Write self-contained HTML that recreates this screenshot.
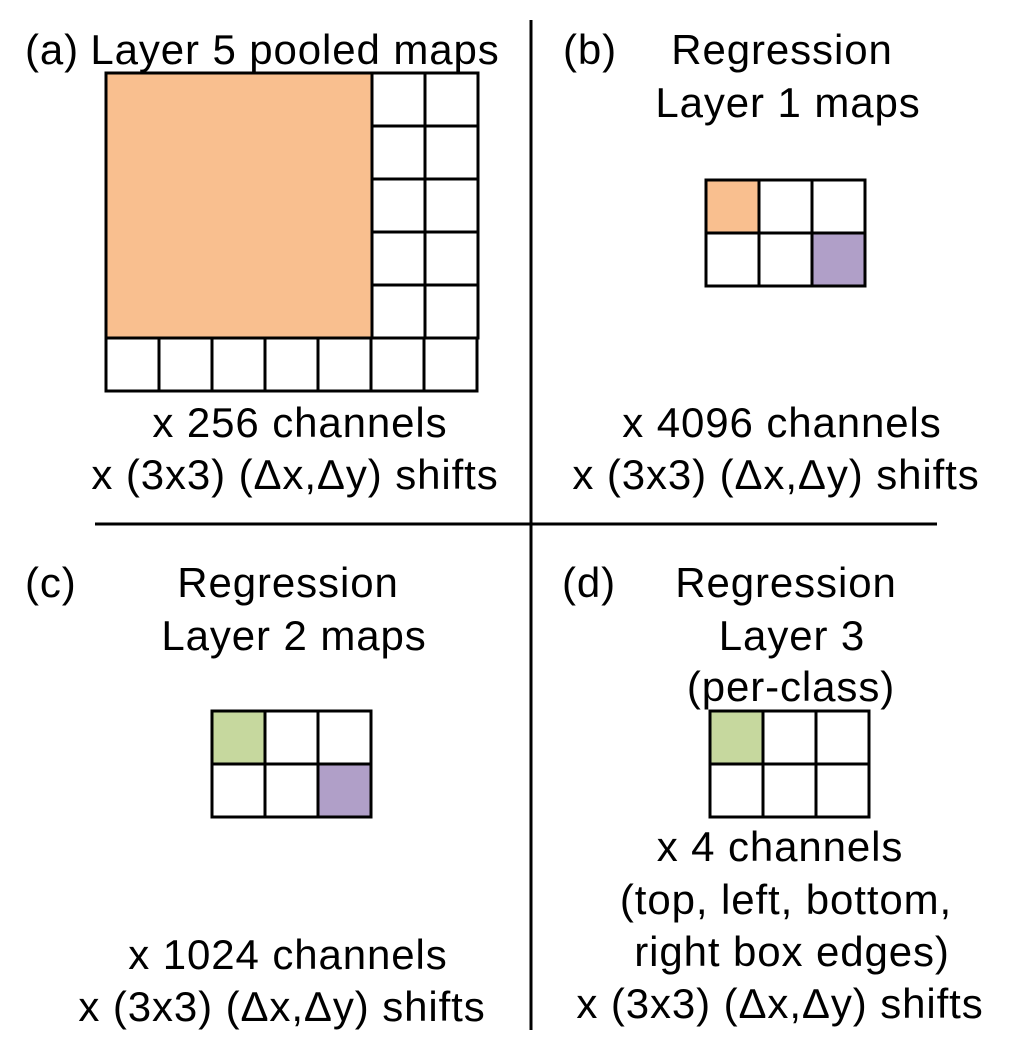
<!DOCTYPE html>
<html><head><meta charset="utf-8"><style>
html,body{margin:0;padding:0;background:#fff}
svg{display:block}
text{font-family:"Liberation Sans",sans-serif;font-size:42px;letter-spacing:0.9px;fill:#000}
.c{text-anchor:middle}
</style></head><body>
<svg width="1032" height="1044" viewBox="0 0 1032 1044">
<line x1="531" y1="20" x2="531" y2="1030" stroke="#000" stroke-width="3"/>
<line x1="95" y1="524" x2="937" y2="524" stroke="#000" stroke-width="3"/>

<g>
<text x="25" y="64">(a)</text>
<text x="295" y="64" class="c">Layer 5 pooled maps</text>
<g id="gridA" fill="#fff" stroke="#000" stroke-width="3"></g>
<text x="300" y="437" class="c">x 256 channels</text>
<text x="295" y="489" class="c">x (3x3) (Δx,Δy) shifts</text>
</g>

<g>
<text x="563" y="64">(b)</text>
<text x="782" y="64" class="c">Regression</text>
<text x="788" y="117" class="c">Layer 1 maps</text>
<g id="gridB" stroke="#000" stroke-width="3"></g>
<text x="782" y="437" class="c">x 4096 channels</text>
<text x="776" y="489" class="c">x (3x3) (Δx,Δy) shifts</text>
</g>

<g>
<text x="25" y="597">(c)</text>
<text x="288" y="597" class="c">Regression</text>
<text x="294" y="650" class="c">Layer 2 maps</text>
<g id="gridC" stroke="#000" stroke-width="3"></g>
<text x="288" y="969" class="c">x 1024 channels</text>
<text x="282" y="1021" class="c">x (3x3) (Δx,Δy) shifts</text>
</g>

<g>
<text x="562" y="597">(d)</text>
<text x="786" y="597" class="c">Regression</text>
<text x="792" y="650" class="c">Layer 3</text>
<text x="791" y="701" class="c">(per-class)</text>
<g id="gridD" stroke="#000" stroke-width="3"></g>
<text x="780" y="861" class="c">x 4 channels</text>
<text x="786" y="914" class="c">(top, left, bottom,</text>
<text x="792" y="966" class="c">right box edges)</text>
<text x="780" y="1018" class="c">x (3x3) (Δx,Δy) shifts</text>
</g>
</svg>
<script>
const NS='http://www.w3.org/2000/svg';
const cell=53;
function rect(g,x,y,w,h,fill){
  const r=document.createElementNS(NS,'rect');
  r.setAttribute('x',x);r.setAttribute('y',y);r.setAttribute('width',w);r.setAttribute('height',h);
  r.setAttribute('fill',fill);
  
  
  g.appendChild(r);
}
const ga=document.getElementById('gridA');
const ax=106,ay=73;
rect(ga,ax,ay,266,265,'#f9bf8f');
for(let r=0;r<5;r++)for(let c=0;c<2;c++)rect(ga,372+c*cell,ay+r*cell,cell,cell,'#fff');
for(let c=0;c<7;c++)rect(ga,ax+c*cell,338,cell,cell,'#fff');
function small(id,x0,y0,colors){
  const g=document.getElementById(id);
  for(let r=0;r<2;r++)for(let c=0;c<3;c++)rect(g,x0+c*cell,y0+r*cell,cell,cell,colors[r*3+c]);
}
const W='#fff',O='#f9bf8f',P='#b09fc8',G='#c6d89e';
small('gridB',706,180,[O,W,W,W,W,P]);
small('gridC',212,711,[G,W,W,W,W,P]);
small('gridD',710,711,[G,W,W,W,W,W]);
</script>
</body></html>
